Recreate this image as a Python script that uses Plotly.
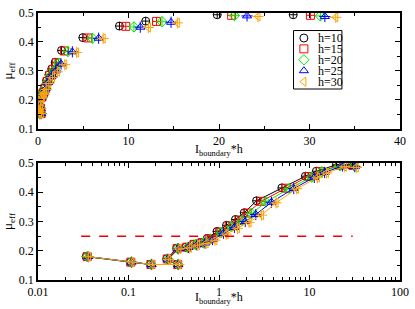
import plotly.graph_objects as go

# ---------------- data ----------------
labels = ["h=10", "h=15", "h=20", "h=25", "h=30"]
colors = ["#000000", "#ff0000", "#00ee00", "#0000ff", "#ffa500"]
symbols = ["circle-cross-open", "square-cross-open", "diamond-cross-open", "triangle-up-open", "triangle-left-open"]
legend_symbols = ["circle-open", "square-open", "diamond-open", "triangle-up-open", "triangle-left-open"]

x_h10 = [0.034, 0.105, 0.175, 0.344, 0.264, 0.34, 0.43, 0.52, 0.63, 0.74, 0.95, 1.21, 1.52, 1.9, 2.6, 4.95, 9.0, 11.9, 19.8, 28.2]
mu_h10 = [0.180, 0.161, 0.153, 0.153, 0.172, 0.208, 0.212, 0.222, 0.228, 0.242, 0.266, 0.287, 0.307, 0.330, 0.371, 0.415, 0.455, 0.472, 0.494, 0.494]

x_h15 = [0.035, 0.106, 0.177, 0.35, 0.268, 0.345, 0.44, 0.53, 0.65, 0.78, 1.01, 1.3, 1.66, 2.05, 2.92, 5.5, 9.7, 13.1, 21.4, 30.1]
mu_h15 = [0.180, 0.161, 0.153, 0.153, 0.172, 0.208, 0.212, 0.222, 0.228, 0.241, 0.264, 0.285, 0.305, 0.329, 0.369, 0.414, 0.454, 0.471, 0.492, 0.492]

x_h20 = [0.035, 0.107, 0.178, 0.352, 0.27, 0.35, 0.45, 0.55, 0.67, 0.81, 1.06, 1.38, 1.8, 2.3, 3.3, 6.0, 10.6, 13.7, 21.7, 31.2]
mu_h20 = [0.180, 0.161, 0.153, 0.153, 0.171, 0.207, 0.211, 0.221, 0.227, 0.240, 0.262, 0.283, 0.303, 0.327, 0.367, 0.413, 0.452, 0.470, 0.491, 0.490]

x_h25 = [0.036, 0.108, 0.18, 0.355, 0.272, 0.355, 0.46, 0.57, 0.7, 0.85, 1.12, 1.48, 1.95, 2.55, 3.8, 6.7, 11.3, 14.7, 23.1, 31.7]
mu_h25 = [0.180, 0.161, 0.153, 0.153, 0.171, 0.207, 0.211, 0.220, 0.226, 0.238, 0.260, 0.280, 0.300, 0.324, 0.366, 0.413, 0.451, 0.468, 0.490, 0.488]

x_h30 = [0.036, 0.109, 0.182, 0.36, 0.275, 0.36, 0.47, 0.58, 0.72, 0.9, 1.2, 1.6, 2.15, 2.95, 4.27, 7.2, 12.2, 15.4, 24.3, 32.9]
mu_h30 = [0.180, 0.161, 0.153, 0.153, 0.170, 0.206, 0.210, 0.219, 0.225, 0.236, 0.257, 0.277, 0.297, 0.322, 0.364, 0.412, 0.450, 0.466, 0.488, 0.485]

xs = [x_h10, x_h15, x_h20, x_h25, x_h30]
mus = [mu_h10, mu_h15, mu_h20, mu_h25, mu_h30]

ref_x = [0.03, 30]
ref_mu = [0.25, 0.25]

FONT = "Liberation Serif"
fig = go.Figure()

for i in range(5):
    for panel in (1, 2):
        xa = "x" if panel == 1 else "x2"
        ya = "y" if panel == 1 else "y2"
        mode = "markers" if panel == 1 else "lines+markers"
        fig.add_trace(go.Scatter(
            x=xs[i], y=mus[i], mode=mode, xaxis=xa, yaxis=ya, showlegend=False,
            line=dict(color=colors[i], width=1),
            marker=dict(symbol=symbols[i], size=8, color=colors[i],
                        line=dict(color=colors[i], width=1))))
        if "triangle" in symbols[i]:
            fig.add_trace(go.Scatter(
                x=xs[i], y=mus[i], mode="markers", xaxis=xa, yaxis=ya, showlegend=False,
                marker=dict(symbol="cross-thin-open", size=8, color=colors[i],
                            line=dict(color=colors[i], width=1))))

fig.add_trace(go.Scatter(x=ref_x, y=ref_mu, mode="lines", xaxis="x2", yaxis="y2",
                         showlegend=False, line=dict(color="#ee0000", width=1.5, dash="dash")))

# ---------- compact legend (box, symbols, labels) ----------
PLOT_T, PLOT_H = 6, 274
def py(p):
    return 1 - (p - PLOT_T) / PLOT_H
def px(p):
    return (p - 32) / 374

fig.add_shape(type="rect", xref="paper", yref="paper", x0=px(296), x1=px(346), y0=py(84), y1=py(24),
              line=dict(color="black", width=1), fillcolor="white", layer="below")
item_y = [31.7, 42.8, 54.0, 65.2, 76.5]
# top panel: 0.5 at 6px, 0.1 at 125px ; x: 0 at 32px, 40 at 406px
leg_x = [(306.7 - 32) / 9.35] * 5
leg_y = [0.5 - (v - 6) / 297.5 for v in item_y]
fig.add_trace(go.Scatter(
    x=leg_x, y=leg_y, mode="markers", xaxis="x", yaxis="y",
    showlegend=False, hoverinfo="skip", cliponaxis=False,
    marker=dict(symbol=legend_symbols, size=8, color=colors, line=dict(color=colors, width=1))))
for lab, v in zip(labels, item_y):
    fig.add_annotation(x=px(319), y=py(v), xref="paper", yref="paper", text=lab,
                       showarrow=False, xanchor="left", yanchor="middle",
                       font=dict(family=FONT, size=12, color="black"))

# x titles as annotations
for ypix in (147, 298):
    fig.add_annotation(x=0.5, y=py(ypix), xref="paper", yref="paper",
                       text="I<sub>boundary</sub>*h", showarrow=False,
                       xanchor="center", yanchor="middle",
                       font=dict(family=FONT, size=12, color="black"))

axis_common = dict(showline=True, linecolor="black", linewidth=1.5, mirror="allticks",
                   ticks="inside", tickcolor="black", ticklen=5, tickwidth=1,
                   showgrid=False, zeroline=False,
                   tickfont=dict(family=FONT, size=12, color="black"))

title_y = dict(text="μ<sub>eff</sub>", font=dict(family=FONT, size=13, color="black"), standoff=4)

fig.update_layout(
    width=415, height=309,
    margin=dict(l=32, r=9, t=6, b=29),
    paper_bgcolor="white", plot_bgcolor="white",
    font=dict(family=FONT, size=12, color="black"),
    xaxis=dict(domain=[0, 1], anchor="y", range=[0, 40], dtick=10,
               minor=dict(dtick=5, ticks="inside", ticklen=3, tickcolor="black"),
               **axis_common),
    yaxis=dict(domain=[0.5657, 1], anchor="x", range=[0.1, 0.5], dtick=0.1,
               minor=dict(dtick=0.05, ticks="inside", ticklen=3, tickcolor="black"),
               title=title_y, **axis_common),
    xaxis2=dict(domain=[0, 1], anchor="y2", type="log", range=[-2, 2],
                tickvals=[0.01, 0.1, 1, 10, 100], ticktext=["0.01", "0.1", "1", "10", "100"],
                minor=dict(ticks="inside", ticklen=3, tickcolor="black",
                           tickvals=[a * 10 ** b for b in (-2, -1, 0, 1) for a in range(2, 10)]),
                **axis_common),
    yaxis2=dict(domain=[0, 0.438], anchor="x2", range=[0.1, 0.5], dtick=0.1,
                minor=dict(dtick=0.05, ticks="inside", ticklen=3, tickcolor="black"),
                title=title_y, **axis_common),
)

fig.write_html("out.html", config={"displayModeBar": False},
               post_script="document.body.style.margin='0';document.body.style.padding='0';")
